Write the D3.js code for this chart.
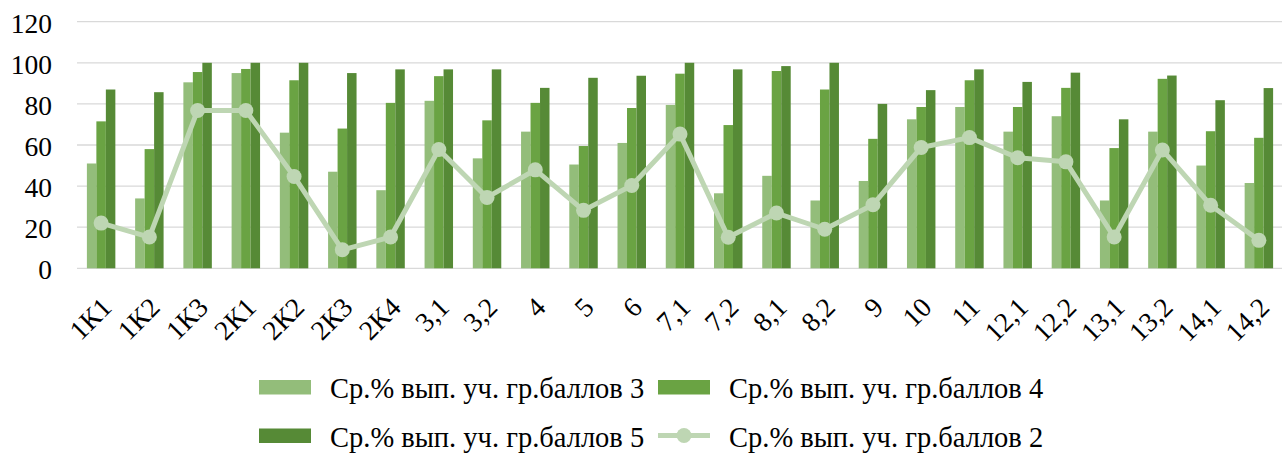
<!DOCTYPE html>
<html><head><meta charset="utf-8">
<script src="https://cdn.jsdelivr.net/npm/d3@7"></script>
<style>body{margin:0;background:#fff}svg{display:block}</style>
</head><body>
<svg id="c" width="1282" height="454"></svg>
<script>
const categories = ["1К1","1К2","1К3","2К1","2К2","2К3","2К4","3,1","3,2","4","5","6","7,1","7,2","8,1","8,2","9","10","11","12,1","12,2","13,1","13,2","14,1","14,2"];
const grade3 = [51,34,90.5,95,66,47,38,81.5,53.5,66.5,50.5,61,79.5,36.5,45,33,42.5,72.5,78.5,66.5,74,33,66.5,50,41.5];
const grade4 = [71.5,58,95.5,97,91.5,68,80.5,93.5,72,80.5,59.5,78,94.7,69.7,96,87,63,78.5,91.5,78.5,87.8,58.5,92.2,66.7,63.5];
const grade5 = [87,85.7,100,100,100,95,96.8,96.8,96.8,87.8,92.7,93.7,100,96.8,98.4,100,80,86.7,96.8,90.7,95.2,72.5,93.8,81.8,87.7];
const grade2 = [22,15.2,76.8,76.8,44.7,9,15.2,57.8,34.5,47.9,28.2,40.3,65.3,15.1,26.9,19,30.9,58.8,63.6,53.8,51.8,15.2,57.6,30.7,13.6];
const yTicks = [0,20,40,60,80,100,120];
const seriesNames = ["Ср.% вып. уч. гр.баллов 3","Ср.% вып. уч. гр.баллов 4","Ср.% вып. уч. гр.баллов 5","Ср.% вып. уч. гр.баллов 2"];
const colors = ["#93bd7a","#6aa343","#568a36","#bed6b3"];

const FONT = '"Liberation Serif"';
const svg = d3.select("#c").style("font-family",FONT);
const x0 = d3.scaleBand().domain(categories).range([77,1283]).paddingInner(0.41).paddingOuter(0.205);
const x1 = d3.scaleBand().domain([0,1,2]).range([0,x0.bandwidth()]);
const y = d3.scaleLinear().domain([0,120]).range([268.3,21.7]);

function serifText(sel, size){
  return sel.attr("font-family","Liberation Serif").style("font-family",FONT)
    .style("font-size",size+"px").attr("fill","#000");
}

svg.append("g").selectAll("line").data(yTicks).join("line")
  .attr("x1",77).attr("x2",1282).attr("y1",d=>y(d)).attr("y2",d=>y(d))
  .attr("stroke","#d9d9d9").attr("stroke-width",1.3);

// y labels: right-aligned by measuring, start-anchored
const gy = svg.append("g");
yTicks.forEach(t=>{
  const tx = serifText(gy.append("text"),27.5).attr("y",y(t)+11).text(d3.format("d")(t));
  const w = tx.node().getComputedTextLength();
  tx.attr("x",52-w);
});

const bars = [grade3,grade4,grade5];
const gb = svg.append("g");
bars.forEach((s,si)=>{
  gb.selectAll(null).data(s).join("rect")
    .attr("x",(d,i)=>x0(categories[i])+x1(si))
    .attr("width",x1.bandwidth())
    .attr("y",d=>y(d)).attr("height",d=>y(0)-y(d))
    .attr("fill",colors[si]);
});

const cx = (d,i)=>x0(categories[i])+x0.bandwidth()/2;
svg.append("path").datum(grade2)
  .attr("d",d3.line().x(cx).y(d=>y(d)))
  .attr("fill","none").attr("stroke",colors[3]).attr("stroke-width",5).attr("stroke-linejoin","round");
svg.append("g").selectAll("circle").data(grade2).join("circle")
  .attr("cx",cx).attr("cy",d=>y(d)).attr("r",7.5).attr("fill",colors[3]);

const gx = svg.append("g");
categories.forEach(c=>{
  const tx = serifText(gx.append("text"),27.5)
    .attr("transform",`translate(${x0(c)+x0.bandwidth()/2+12},${309}) rotate(-45)`).text(c);
  const w = tx.node().getComputedTextLength();
  tx.attr("x",-w);
});

const leg = [
  {i:0,x:259,y:387},{i:1,x:658,y:387},{i:2,x:259,y:435.5},{i:3,x:658,y:435.5}
];
const gl = svg.append("g");
leg.forEach(l=>{
  if(l.i<3){
    gl.append("rect").attr("x",l.x).attr("y",l.y-7).attr("width",52).attr("height",14.5).attr("fill",colors[l.i]);
  } else {
    gl.append("line").attr("x1",l.x).attr("x2",l.x+52).attr("y1",l.y).attr("y2",l.y).attr("stroke",colors[3]).attr("stroke-width",5);
    gl.append("circle").attr("cx",l.x+26).attr("cy",l.y).attr("r",7.5).attr("fill",colors[3]);
  }
  serifText(gl.append("text"),28.5).attr("x",l.x+71).attr("y",l.y+11).text(seriesNames[l.i]);
});
</script>
</body></html>
